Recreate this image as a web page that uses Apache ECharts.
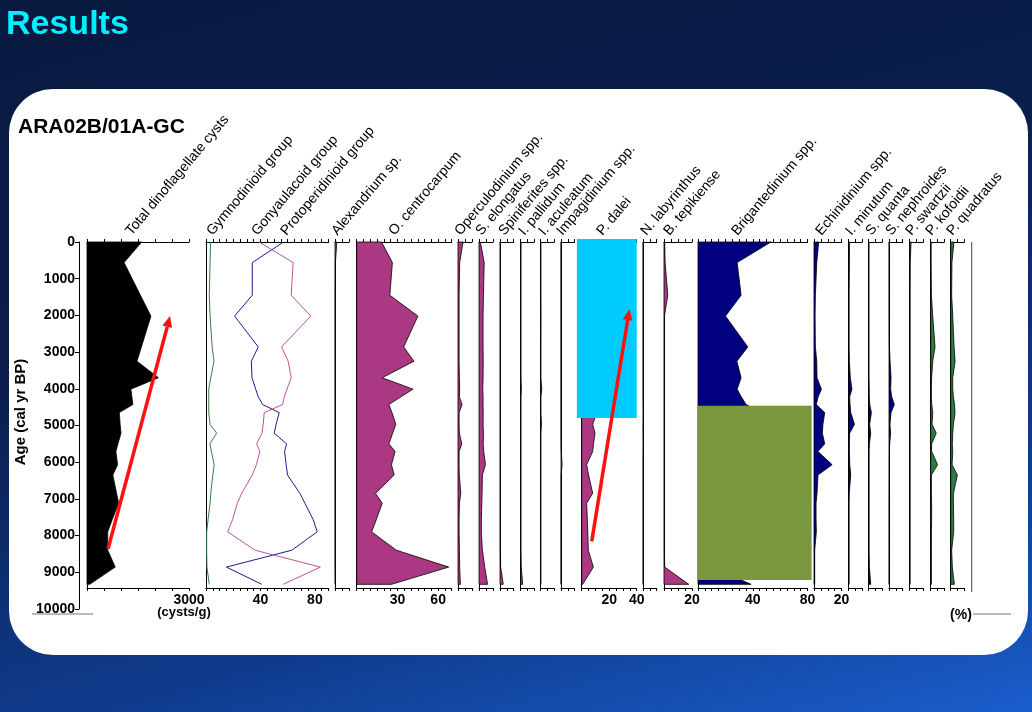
<!DOCTYPE html>
<html>
<head>
<meta charset="utf-8">
<title>ARA02B/01A-GC dinoflagellate cysts</title>
<script src="https://cdn.jsdelivr.net/npm/echarts@6/dist/echarts.min.js"></script>
<style>
  html, body { margin: 0; padding: 0; width: 1032px; height: 712px; overflow: hidden; }
  body { position: relative; background: linear-gradient(165deg, #08193f 0%, #0a1f4d 40%, #0f3c8e 75%, #1a5dcc 100%); }
  #card { position: absolute; left: 9px; top: 89px; width: 1019px; height: 566px; background: #fff; border-radius: 44px; }
  #chart { position: absolute; left: 0; top: 0; width: 1032px; height: 712px; }
</style>
</head>
<body>
<div id="card"></div>
<div id="chart"></div>
<script>
// sample ages (cal yr BP), shared by every taxon
var ages = [0, 560, 1450, 2020, 2860, 3250, 3700, 4010, 4220, 4430, 4650, 4970, 5210, 5500, 5710, 6070, 6350, 6850, 7120, 7570, 7900, 8400, 8860, 9330];

var taxa = ['Total dinoflagellate cysts', 'Gymnodinioid group', 'Gonyaulacoid group', 'Protoperidinioid group',
  'Alexandrium sp.', 'O. centrocarpum', 'Operculodinium spp.', 'S. elongatus', 'Spiniferites spp.', 'I. pallidum',
  'I. aculeatum', 'Impagidinium spp.', 'P. dalei', 'N. labyrinthus', 'B. tepikiense', 'Brigantedinium spp.',
  'Echinidinium spp.', 'I. minutum', 'S. quanta', 'S. nephroides', 'P. swartzii', 'P. kofoidii', 'P. quadratus'];

// cysts/g
var totalCysts = [1610, 1090, 1570, 1880, 1600, 1470, 2100, 1290, 1320, 1350, 950, 975, 1000, 910, 850, 900, 760, 870, 930, 740, 610, 610, 830, 80];
// %
var gymnodinioid = [3.4, 3, 2.4, 3, 4.5, 5.9, 3.5, 2, 2, 2, 2, 3, 7.8, 2.9, 4, 6, 5, 3.5, 3, 1.5, 0.5, 0.5, 0.7, 2.4];
var gonyaulacoid = [39, 64, 62.6, 77, 55.5, 60.4, 62.6, 59.5, 57.5, 56.3, 42.8, 42, 41.1, 37.2, 39.6, 37, 34, 26.2, 23, 19.5, 15.9, 36, 84, 56.7];
var protoperidinioid = [57, 34, 34, 21, 38.4, 33.3, 33.8, 36.5, 38.4, 41.6, 53.8, 51.5, 50.1, 59.2, 57.7, 58.9, 59.9, 69, 72.7, 78.8, 81.7, 63, 15, 41];
var alexandrium = [1.3, 0.3, 0.2, 0.2, 0.2, 0.2, 0.2, 0.2, 0.2, 0.2, 0.2, 0.2, 0.2, 0.2, 0.2, 0.2, 0.2, 0.2, 0.2, 0.2, 0.2, 0.2, 0.2, 0.3];
var oCentrocarpum = [18.3, 26.3, 24.4, 45.1, 34.6, 42.2, 18.8, 41.5, 32.6, 23.7, 26, 28.8, 26.5, 23.7, 28.3, 25.6, 27.6, 13.9, 18.8, 14.4, 11, 29.3, 67.8, 25.6];
var operculodinium = [3.6, 1.2, 0.8, 0.8, 0.8, 0.8, 1.0, 1.2, 1.0, 2.9, 0.8, 0.8, 1.0, 2.7, 0.8, 0.8, 0.9, 2.0, 1.0, 0.8, 0.8, 1.0, 1.2, 1.7];
var sElongatus = [1.0, 3.7, 3.2, 2.9, 2.9, 3.0, 2.9, 2.7, 2.9, 2.9, 3.0, 2.9, 3.2, 3.0, 3.4, 4.6, 2.4, 2.2, 2.0, 1.7, 1.7, 2.4, 4.1, 6.1];
var spiniferites = [0.3, 0.3, 0.3, 0.3, 0.3, 0.3, 0.3, 0.3, 0.3, 0.3, 0.3, 0.3, 0.3, 0.3, 0.3, 0.3, 0.3, 0.3, 0.3, 0.3, 0.3, 0.3, 0.5, 2.4];
var iPallidum = [0.2, 0.2, 0.2, 0.2, 0.2, 0.2, 0.2, 0.5, 0.2, 0.2, 0.2, 0.2, 0.2, 0.2, 0.2, 0.2, 0.2, 0.2, 0.2, 0.2, 0.2, 0.2, 0.4, 1.5];
var iAculeatum = [0.1, 0.1, 0.1, 0.2, 0.1, 0.1, 0.1, 0.8, 0.1, 0.1, 0.1, 0.6, 0.1, 0.1, 0.1, 0.1, 0.1, 0.1, 0.1, 0.1, 0.1, 0.1, 0.1, 0.1];
var impagidinium = [0.1, 0.1, 0.1, 0.1, 0.1, 0.1, 0.1, 0.1, 0.1, 0.1, 0.1, 0.1, 0.1, 0.1, 0.2, 0.8, 0.1, 0.1, 0.1, 0.1, 0.1, 0.1, 0.1, 0.1];
var pDalei = [15, 14, 13, 12, 12, 11, 12, 10, 11, 10, 11, 8.0, 9.7, 8.6, 8.0, 3.6, 5.0, 8.0, 3.6, 4.1, 4.4, 4.8, 8.5, 0.7];
var nLabyrinthus = [0.2, 0.2, 0.2, 0.2, 0.2, 0.2, 0.2, 0.2, 0.2, 0.2, 0.4, 0.2, 0.2, 0.4, 0.2, 0.2, 0.2, 0.2, 0.2, 0.2, 0.2, 0.2, 0.2, 0.2];
var bTepikiense = [0.5, 0.8, 2.7, 0.3, 0.3, 0.3, 0.3, 0.3, 0.3, 0.3, 0.3, 0.3, 0.3, 0.3, 0.3, 0.3, 0.3, 0.3, 0.3, 0.3, 0.3, 0.3, 0.5, 17.7];
var brigantedinium = [53.3, 28.6, 31.5, 20.1, 36.4, 28.4, 31.5, 28.6, 31.6, 35.2, 46, 44, 42, 49, 48, 43, 50, 60, 63, 70, 72, 55, 10, 38.8];
var echinidinium = [3.4, 2.0, 1.0, 0.8, 1.0, 2.0, 2.2, 5.4, 3.0, 1.7, 7.8, 6.5, 6.1, 7.8, 2.9, 13.2, 2.9, 2.2, 1.5, 1.5, 1.7, 0.5, 0.5, 0.5];
var iMinutum = [0.5, 0.5, 0.3, 0.3, 0.3, 0.5, 1.2, 2.4, 0.7, 1.0, 1.5, 4.3, 0.7, 0.5, 0.5, 0.8, 1.5, 0.4, 0.3, 0.3, 0.3, 0.3, 0.3, 0.3];
var sQuanta = [0.2, 0.2, 0.2, 0.2, 0.2, 0.2, 0.2, 0.4, 0.4, 0.8, 2.0, 0.7, 1.5, 0.5, 0.3, 0.3, 0.3, 0.3, 0.3, 0.3, 0.3, 0.3, 0.5, 1.5];
var sNephroides = [0.2, 0.2, 0.2, 0.2, 0.3, 0.8, 1.5, 1.2, 2.0, 3.9, 1.5, 0.7, 1.2, 0.5, 0.3, 0.3, 0.3, 0.2, 0.2, 0.2, 0.2, 0.2, 0.2, 0.2];
var pSwartzii = [1.0, 0.4, 0.3, 0.3, 0.3, 0.3, 0.3, 0.3, 0.3, 0.3, 0.3, 0.3, 0.3, 0.3, 0.3, 0.3, 0.3, 0.3, 0.3, 0.3, 0.3, 0.3, 0.3, 0.3];
var pKofoidii = [0.3, 0.3, 0.5, 1.5, 3.2, 1.5, 0.7, 0.5, 0.5, 0.8, 1.5, 1.0, 4.1, 0.7, 0.7, 5.1, 0.5, 0.5, 0.7, 0.7, 0.5, 0.5, 0.5, 0.5];
var pQuadratus = [2.4, 0.9, 0.7, 1.5, 2.5, 3.2, 1.5, 1.5, 2.0, 2.8, 3.2, 2.0, 1.5, 1.2, 1.5, 1.0, 4.9, 2.0, 2.0, 2.2, 2.2, 0.7, 1.2, 2.7];

// tick labels shown under panels (panel index -> values)
var bottomLabels = { 0: [3000], 1: [40, 80], 3: [30, 60], 10: [20, 40], 12: [20], 13: [40, 80], 14: [20] };

// panel layout: left px, width px, axis max, tick step
var panelLayout = [
  [87, 102, 3000, 500], [206, 122.5, 90, 5], [335, 14, 10, 5], [356.7, 95, 70, 5],
  [458, 14, 10, 5], [479, 14, 10, 5], [500, 13.5, 10, 5], [520.7, 13.5, 10, 5],
  [540.7, 13.5, 10, 5], [561, 13.5, 10, 5], [581.7, 55, 40, 5], [643, 13.7, 10, 5],
  [664, 28, 20, 5], [698, 109.5, 80, 5], [814, 27.5, 20, 5], [848.7, 13.5, 10, 5],
  [868.7, 13.5, 10, 5], [889, 13.7, 10, 5], [909.7, 13.6, 10, 5], [930.7, 13.5, 10, 5],
  [950.7, 13.6, 10, 5]
];
// x where each rotated taxon name starts
var nameX = [132, 213, 258, 287, 338, 395, 461, 482, 505, 525, 545, 563, 603, 647, 670, 738, 822, 852, 872, 892, 912, 932, 953];

var MAGENTA = '#aa3882', NAVY = '#000080', GREEN = '#2d7a42';
var font = 'Arial, "Liberation Sans", sans-serif';
var panelAgeMax = 9430;
var P_DALEI = 10, BRIGANTEDINIUM = 13;
var NAME_ANGLE = 50 * Math.PI / 180;

var chart = echarts.init(document.getElementById('chart'));
var grids = [], xAxes = [], yAxes = [], series = [];

// main age axis
grids.push({ left: 79, top: 242, width: 1, height: 367, outerBoundsMode: 'none' });
xAxes.push({ gridIndex: 0, type: 'value', show: false });
yAxes.push({
  gridIndex: 0, type: 'value', min: 0, max: 10000, interval: 1000, inverse: true,
  axisLine: { show: true, lineStyle: { color: '#000', width: 1 } },
  axisTick: { show: true, length: 4, lineStyle: { color: '#000' } },
  axisLabel: { fontWeight: 'bold', fontSize: 14, color: '#000', margin: 4, fontFamily: font,
    formatter: function (v) { return String(v); } },
  splitLine: { show: false }
});

panelLayout.forEach(function (p, i) {
  var g = i + 1;
  var shown = bottomLabels[i] || [];
  grids.push({ left: p[0], top: 242, width: p[1], height: 346, outerBoundsMode: 'none' });
  var base = {
    gridIndex: g, type: 'value', min: 0, max: p[2], interval: p[3],
    axisLine: { show: true, onZero: false, lineStyle: { color: '#000', width: 1 } },
    axisTick: { show: true, length: 3, lineStyle: { color: '#000', width: 1 } },
    splitLine: { show: false }
  };
  xAxes.push(Object.assign({}, base, { position: 'top', axisLabel: { show: false } }));
  xAxes.push(Object.assign({}, base, {
    position: 'bottom',
    axisLabel: {
      show: shown.length > 0, fontWeight: 'bold', fontSize: 14, color: '#000', margin: 5, fontFamily: font,
      formatter: function (v) { return shown.indexOf(v) >= 0 ? String(v) : ''; }
    }
  }));
  yAxes.push({
    gridIndex: g, type: 'value', min: 0, max: panelAgeMax, inverse: true,
    axisLine: { show: true, onZero: false, lineStyle: { color: '#000', width: 1 } },
    axisTick: { show: false }, axisLabel: { show: false }, splitLine: { show: false }
  });
});

function areaSeries(i, values, color) {
  var pts = values.map(function (v, k) { return [v, ages[k]]; });
  var outline = [[0, ages[0]]].concat(pts, [[0, ages[ages.length - 1]]]);
  return {
    type: 'custom', xAxisIndex: 1 + 2 * i, yAxisIndex: i + 1, silent: true, data: [[0, 0]],
    renderItem: function (params, api) {
      return {
        type: 'polygon',
        shape: { points: outline.map(function (d) { return api.coord(d); }) },
        style: { fill: color, stroke: '#000', lineWidth: 0.8 }
      };
    }
  };
}
function lineSeries(i, values, color) {
  return {
    type: 'line', xAxisIndex: 1 + 2 * i, yAxisIndex: i + 1, silent: true, symbol: 'none',
    data: values.map(function (v, k) { return [v, ages[k]]; }),
    lineStyle: { color: color, width: 1 }, itemStyle: { color: color }
  };
}

var seriesOf = {};
function add(i, s) { seriesOf[i] = series.length; series.push(s); }
add(0, areaSeries(0, totalCysts, '#000'));
add(1, lineSeries(1, gymnodinioid, '#3a7d4a'));
series.push(lineSeries(1, protoperidinioid, '#1c1c8c'));
series.push(lineSeries(1, gonyaulacoid, '#c050a0'));
[alexandrium, oCentrocarpum, operculodinium, sElongatus, spiniferites, iPallidum, iAculeatum,
 impagidinium, pDalei, nLabyrinthus, bTepikiense].forEach(function (v, k) { add(k + 2, areaSeries(k + 2, v, MAGENTA)); });
[brigantedinium, echinidinium, iMinutum, sQuanta, sNephroides].forEach(function (v, k) { add(k + 13, areaSeries(k + 13, v, NAVY)); });
[pSwartzii, pKofoidii, pQuadratus].forEach(function (v, k) { add(k + 18, areaSeries(k + 18, v, GREEN)); });

chart.setOption({
  animation: false,
  title: [
    { text: 'Results', left: 6, top: 8, padding: 0, textStyle: { color: '#00eeff', fontSize: 34, fontWeight: 'bold', fontFamily: font } },
    { text: 'ARA02B/01A-GC', left: 18, top: 117, padding: 0, textStyle: { color: '#000', fontSize: 21, fontWeight: 'bold', fontFamily: font } }
  ],
  grid: grids, xAxis: xAxes, yAxis: yAxes, series: series
});

// annotations, placed in data units of their panels
function px(panel, pt) { return chart.convertToPixel({ seriesIndex: seriesOf[panel] }, pt); }
function box(panel, a, b, color) {
  var p0 = px(panel, a), p1 = px(panel, b);
  return { type: 'rect', z: 10, silent: true, shape: { x: p0[0], y: p0[1], width: p1[0] - p0[0], height: p1[1] - p0[1] }, style: { fill: color } };
}
function arrow(panel, a, b) {
  var p0 = px(panel, a), p1 = px(panel, b);
  var dx = p1[0] - p0[0], dy = p1[1] - p0[1], len = Math.sqrt(dx * dx + dy * dy);
  var ux = dx / len, uy = dy / len, hl = 11, hw = 5;
  var bx = p1[0] - ux * hl, by = p1[1] - uy * hl;
  return [
    { type: 'line', z: 20, silent: true, shape: { x1: p0[0], y1: p0[1], x2: bx, y2: by }, style: { stroke: '#ff1010', lineWidth: 3.5 } },
    { type: 'polygon', z: 20, silent: true, shape: { points: [p1, [bx - uy * hw, by + ux * hw], [bx + uy * hw, by - ux * hw]] }, style: { fill: '#ff1010' } }
  ];
}
function text(x, y, s, opts) {
  return Object.assign({ type: 'text', z: 15, silent: true, x: x, y: y,
    style: Object.assign({ text: s, fill: '#000', fontFamily: font }, opts.style) }, opts.el || {});
}

var graphic = [];
taxa.forEach(function (name, k) {
  graphic.push(text(nameX[k] + 2, 238, name, {
    style: { fontSize: 14, align: 'left', verticalAlign: 'bottom', textAlign: 'left', textVerticalAlign: 'bottom' },
    el: { rotation: NAME_ANGLE }
  }));
});
graphic.push(text(21, 412, 'Age (cal yr BP)', {
  style: { fontSize: 15, fontWeight: 'bold', align: 'center', verticalAlign: 'middle', textAlign: 'center', textVerticalAlign: 'middle' },
  el: { rotation: Math.PI / 2 }
}));
graphic.push(text(184, 612, '(cysts/g)', { style: { fontSize: 13, fontWeight: 'bold', align: 'center', verticalAlign: 'middle', textAlign: 'center', textVerticalAlign: 'middle' } }));
graphic.push(text(961, 615, '(%)', { style: { fontSize: 14, fontWeight: 'bold', align: 'center', verticalAlign: 'middle', textAlign: 'center', textVerticalAlign: 'middle' } }));
graphic.push({ type: 'line', z: 5, silent: true, shape: { x1: 32, y1: 614, x2: 93, y2: 614 }, style: { stroke: '#777', lineWidth: 1 } });
graphic.push({ type: 'line', z: 5, silent: true, shape: { x1: 973, y1: 614, x2: 1011, y2: 614 }, style: { stroke: '#777', lineWidth: 1 } });
graphic.push({ type: 'line', z: 5, silent: true, shape: { x1: 971.7, y1: 242, x2: 971.7, y2: 592 }, style: { stroke: '#444', lineWidth: 1 } });
graphic.push(box(P_DALEI, [-3.5, -80], [40, 4800], '#00ccff'));
graphic.push(box(BRIGANTEDINIUM, [-0.3, 4460], [83, 9210], '#7a973d'));
graphic = graphic.concat(arrow(0, [620, 8360], [2443, 2020]));
graphic = graphic.concat(arrow(P_DALEI, [7.3, 8160], [34.7, 1830]));

chart.setOption({ graphic: graphic });
</script>
</body>
</html>
